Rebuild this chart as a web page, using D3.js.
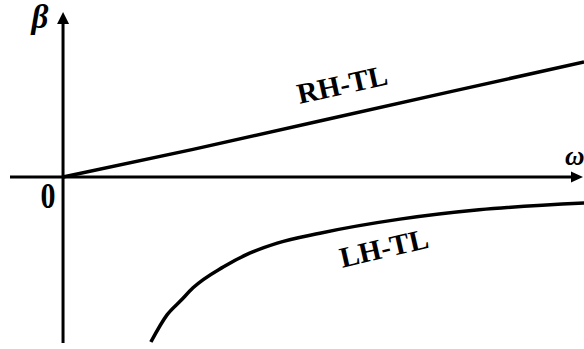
<!DOCTYPE html>
<html>
<head>
<meta charset="utf-8">
<script src="https://cdn.jsdelivr.net/npm/d3@7"></script>
<style>
  html, body { margin: 0; padding: 0; background: #fff; }
  svg { display: block; }
  text { font-family: "Liberation Serif", "Times New Roman", serif; font-weight: bold; fill: #000; }
</style>
</head>
<body>
<svg id="chart" width="584" height="349"></svg>
<script>
// Dispersion diagram: phase constant β against frequency ω
const omegaDomain = [-1.02, 10];
const betaDomain = [3.17, -3.19];

// Right-handed transmission line: β grows with ω
const rhOmega = [0, 2.5, 5, 7.5, 10.02];
const rhBeta  = [0, 0.53, 1.09, 1.65, 2.21];

// Left-handed transmission line: negative β approaching zero
const lhOmega = [1.69, 2.0, 2.27, 2.5, 3.08, 3.6, 4.12, 4.94, 6.48, 8.0, 10.02];
const lhBeta  = [-3.17, -2.65, -2.37, -2.13, -1.73, -1.46, -1.27, -1.08, -0.81, -0.63, -0.5];

const curveLabels = ["RH-TL", "LH-TL"];
const axisLabels = { x: "ω", y: "β", origin: "0" };

const svg = d3.select("#chart");

const x = d3.scaleLinear().domain(omegaDomain).range([10, 583]);
const y = d3.scaleLinear().domain(betaDomain).range([12, 343]);

// axes
const x0 = x(0), y0 = y(0);
svg.append("line")
  .attr("x1", x(omegaDomain[0])).attr("x2", x(omegaDomain[1]) - 8)
  .attr("y1", y0).attr("y2", y0)
  .attr("stroke", "#000").attr("stroke-width", 3);
svg.append("line")
  .attr("x1", x0).attr("x2", x0)
  .attr("y1", y(betaDomain[1])).attr("y2", y(betaDomain[0]) + 8)
  .attr("stroke", "#000").attr("stroke-width", 3);

// arrow heads
const xt = x(omegaDomain[1]);
svg.append("path")
  .attr("d", `M${xt},${y0} L${xt - 12},${y0 - 5.5} L${xt - 12},${y0 + 5.5} Z`)
  .attr("fill", "#000");
const yt = y(betaDomain[0]);
svg.append("path")
  .attr("d", `M${x0},${yt} L${x0 - 6},${yt + 12} L${x0 + 6},${yt + 12} Z`)
  .attr("fill", "#000");

// curves
const line = d3.line().x(d => x(d[0])).y(d => y(d[1]));
const rh = d3.zip(rhOmega, rhBeta);
const lh = d3.zip(lhOmega, lhBeta);

svg.append("path").datum(rh)
  .attr("d", line).attr("fill", "none")
  .attr("stroke", "#000").attr("stroke-width", 3.5);
svg.append("path").datum(lh)
  .attr("d", line.curve(d3.curveMonotoneX)).attr("fill", "none")
  .attr("stroke", "#000").attr("stroke-width", 3.5);

// curve labels
svg.append("text")
  .attr("transform", `translate(${x(5.37)},${y(1.78)}) rotate(-12.5)`)
  .attr("text-anchor", "middle").attr("dominant-baseline", "central")
  .attr("font-size", 29)
  .text(curveLabels[0]);
svg.append("text")
  .attr("transform", `translate(${x(6.17)},${y(-1.36)}) rotate(-13)`)
  .attr("text-anchor", "middle").attr("dominant-baseline", "central")
  .attr("font-size", 29)
  .text(curveLabels[1]);

// axis labels
svg.append("text")
  .attr("x", 40).attr("y", 28)
  .attr("font-size", 33).attr("font-style", "italic")
  .attr("text-anchor", "middle")
  .text(axisLabels.y);
svg.append("text")
  .attr("x", 565).attr("y", 165)
  .attr("font-size", 27).attr("font-style", "italic")
  .text(axisLabels.x);
svg.append("text")
  .attr("transform", "translate(48,208) scale(1,1.2)")
  .attr("font-size", 30).attr("text-anchor", "middle")
  .text(axisLabels.origin);
</script>
</body>
</html>
